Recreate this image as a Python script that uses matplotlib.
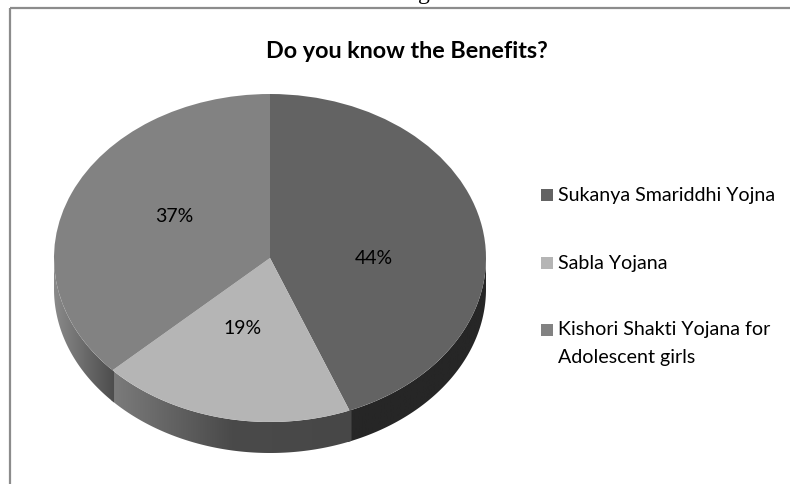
import numpy as np
import matplotlib
matplotlib.use('Agg')
import matplotlib.pyplot as plt
from matplotlib.colors import LinearSegmentedColormap
from matplotlib.patches import Polygon, Rectangle

W, H = 790, 484

title = 'Do you know the Benefits?'
categories = ['Sukanya Smariddhi Yojna', 'Sabla Yojana', 'Kishori Shakti Yojana for\nAdolescent girls']
values = [44, 19, 37]
colors = ['#636363', '#b5b5b5', '#828282']

# side wall shading, left to right across the pie
side_shades = [
    ['#262626', '#262626'],
    ['#7c7c7c', '#4a4a4a', '#474747'],
    ['#8a8a8a', '#4c4c4c'],
]

label_pos = [(374, 258), (243, 329), (174, 217)]
legend_y = [195, 263, 330]

# pie ellipse in pixels
cx, cy, rx, ry = 270, 258, 216, 164
depth = 31

plt.rcParams['font.family'] = ['Lato', 'DejaVu Sans']
fig = plt.figure(figsize=(W / 100, H / 100), dpi=100, facecolor='white')

# page layer in pixel coordinates
bg = fig.add_axes([0, 0, 1, 1])
bg.set_xlim(0, W)
bg.set_ylim(H, 0)
bg.axis('off')
bg.plot([10, 10], [8, H], color='#8c8c8c', lw=1.6, solid_capstyle='butt')
bg.plot([10, W], [8, 8], color='#8c8c8c', lw=1.6, solid_capstyle='butt')
bg.text(407, 51, title, ha='center', va='center', fontsize=16.8, fontweight='bold', color='black')
bg.text(424, -6, 'g', ha='center', va='center', fontsize=17, family='Liberation Serif', color='black', clip_on=True)

for name, y, col in zip(categories, legend_y, colors):
    bg.add_patch(Rectangle((541, y - 6), 12, 12, facecolor=col, edgecolor='none'))
    for i, line in enumerate(name.split('\n')):
        bg.text(558, y + i * 28, line, ha='left', va='center', fontsize=14.1, color='black')

# pie axes: x -1..1 spans the ellipse, y runs on down to the foot of the rim
dy = depth / ry
ax = fig.add_axes([(cx - rx) / W, 1 - (cy + ry + depth) / H, 2 * rx / W, (2 * ry + depth) / H], zorder=2)
ax.patch.set_alpha(0)

# angles clockwise from twelve o'clock
edges = np.concatenate([[0], np.cumsum(values)]) / sum(values) * 2 * np.pi

for a0, a1, shades in zip(edges[:-1], edges[1:], side_shades):
    # only the front half of the rim is visible; small overlap hides the seams
    lo, hi = max(a0 - 0.01, np.pi / 2), min(a1 + 0.01, 3 * np.pi / 2)
    if lo >= hi:
        continue
    t = np.linspace(lo, hi, 200)
    x, y = np.sin(t), np.cos(t)
    rim = np.column_stack([np.r_[x, x[::-1]], np.r_[y, y[::-1] - dy]])
    cmap = LinearSegmentedColormap.from_list('side', shades)
    im = ax.imshow(np.linspace(0, 1, 256)[None, :], extent=(x.min(), x.max(), -1 - dy, 1), cmap=cmap,
                   aspect='auto', zorder=1)
    im.set_clip_path(Polygon(rim, transform=ax.transData))

ax.pie(values, colors=colors, startangle=90, counterclock=False, radius=1,
       wedgeprops={'linewidth': 0, 'zorder': 2})
ax.set_aspect('auto')
ax.set_xlim(-1, 1)
ax.set_ylim(-1 - dy, 1)

# labels on their own layer above the pie
top = fig.add_axes([0, 0, 1, 1], zorder=3)
top.set_xlim(0, W)
top.set_ylim(H, 0)
top.axis('off')
for v, (px, py) in zip(values, label_pos):
    top.text(px, py, f'{v}%', ha='center', va='center', fontsize=14, color='black')

fig.savefig('out.png', dpi=100)
